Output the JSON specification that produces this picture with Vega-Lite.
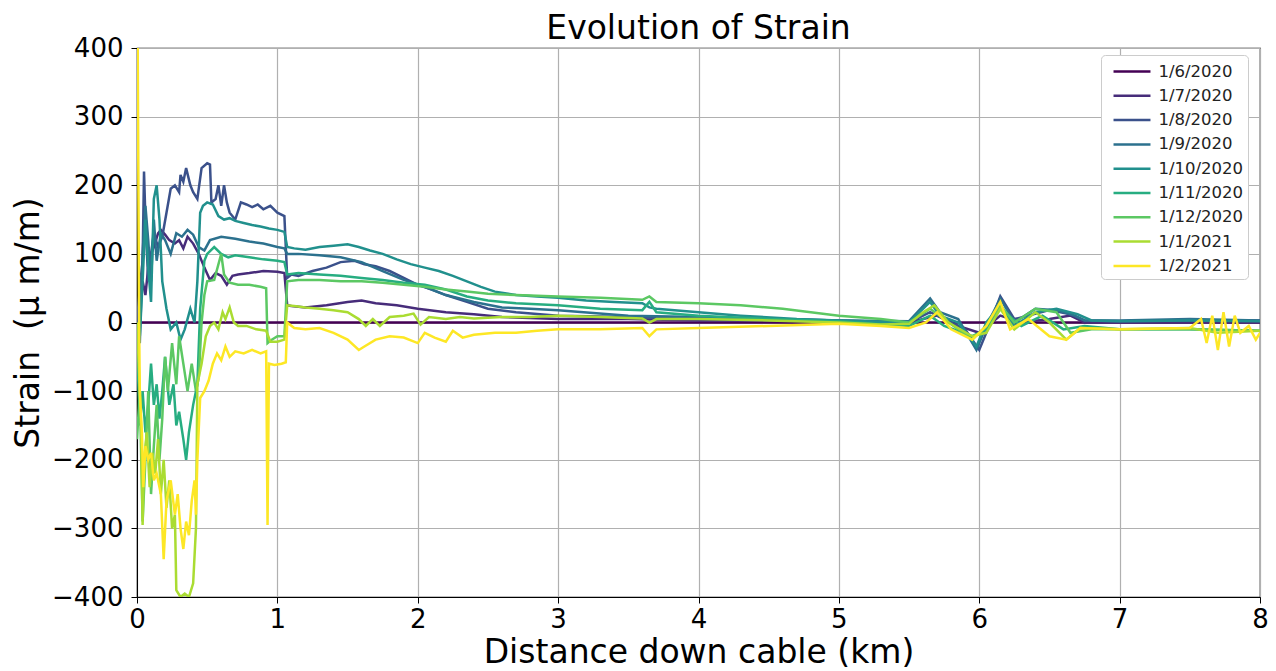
{
  "$schema": "https://vega.github.io/schema/vega-lite/v6.json",
  "width": 1123,
  "height": 549,
  "autosize": {"type": "none"},
  "padding": {"left": 137, "top": 48, "right": 16, "bottom": 74},
  "background": "white",
  "title": {"text": "Evolution of Strain", "fontSize": 33, "fontWeight": "normal", "font": "DejaVu Sans", "color": "black", "offset": -11, "anchor": "middle"},
  "config": {
    "view": {"stroke": "black", "strokeWidth": 1.2},
    "axis": {"font": "DejaVu Sans", "labelFont": "DejaVu Sans", "titleFont": "DejaVu Sans", "labelFontSize": 26, "labelColor": "black", "titleFontSize": 33, "titleFontWeight": "normal", "titleColor": "black", "grid": true, "gridColor": "#b0b0b0", "gridWidth": 1.2, "domainColor": "black", "tickColor": "black", "tickSize": 6, "labelFlush": false, "labelOverlap": false},
    "legend": {"labelFont": "DejaVu Sans", "labelFontSize": 16.5, "labelColor": "#222222", "symbolType": "M-1.68,0H1.68", "symbolStrokeWidth": 2.5, "symbolSize": 484, "symbolOffset": 14.5, "rowPadding": 3.3, "labelOffset": 14, "fillColor": "white", "strokeColor": "#cccccc", "cornerRadius": 4, "padding": 4}
  },
  "data": {"values": [
    {"date":"1/6/2020","km":0,"strain":0},{"date":"1/6/2020","km":8,"strain":0},

    {"date":"1/7/2020","km":0,"strain":0},{"date":"1/7/2020","km":0.02,"strain":30},{"date":"1/7/2020","km":0.04,"strain":60},{"date":"1/7/2020","km":0.06,"strain":40},{"date":"1/7/2020","km":0.08,"strain":80},{"date":"1/7/2020","km":0.1,"strain":100},{"date":"1/7/2020","km":0.12,"strain":110},{"date":"1/7/2020","km":0.15,"strain":130},{"date":"1/7/2020","km":0.17,"strain":135},{"date":"1/7/2020","km":0.2,"strain":128},{"date":"1/7/2020","km":0.23,"strain":120},{"date":"1/7/2020","km":0.27,"strain":115},{"date":"1/7/2020","km":0.3,"strain":120},{"date":"1/7/2020","km":0.33,"strain":108},{"date":"1/7/2020","km":0.36,"strain":125},{"date":"1/7/2020","km":0.4,"strain":115},{"date":"1/7/2020","km":0.44,"strain":100},{"date":"1/7/2020","km":0.48,"strain":80},{"date":"1/7/2020","km":0.52,"strain":62},{"date":"1/7/2020","km":0.56,"strain":72},{"date":"1/7/2020","km":0.6,"strain":68},{"date":"1/7/2020","km":0.64,"strain":55},{"date":"1/7/2020","km":0.68,"strain":68},{"date":"1/7/2020","km":0.72,"strain":70},{"date":"1/7/2020","km":0.8,"strain":72},{"date":"1/7/2020","km":0.9,"strain":75},{"date":"1/7/2020","km":1.0,"strain":74},{"date":"1/7/2020","km":1.05,"strain":72},{"date":"1/7/2020","km":1.07,"strain":25},{"date":"1/7/2020","km":1.1,"strain":24},{"date":"1/7/2020","km":1.2,"strain":22},{"date":"1/7/2020","km":1.35,"strain":25},{"date":"1/7/2020","km":1.5,"strain":30},{"date":"1/7/2020","km":1.6,"strain":32},{"date":"1/7/2020","km":1.7,"strain":28},{"date":"1/7/2020","km":1.85,"strain":25},{"date":"1/7/2020","km":2.0,"strain":20},{"date":"1/7/2020","km":2.2,"strain":15},{"date":"1/7/2020","km":2.4,"strain":12},{"date":"1/7/2020","km":2.6,"strain":8},{"date":"1/7/2020","km":3.0,"strain":5},{"date":"1/7/2020","km":3.5,"strain":5},{"date":"1/7/2020","km":4.0,"strain":3},{"date":"1/7/2020","km":4.5,"strain":3},{"date":"1/7/2020","km":5.0,"strain":2},{"date":"1/7/2020","km":5.5,"strain":0},{"date":"1/7/2020","km":5.7,"strain":10},{"date":"1/7/2020","km":5.85,"strain":-5},{"date":"1/7/2020","km":6.0,"strain":-15},{"date":"1/7/2020","km":6.15,"strain":10},{"date":"1/7/2020","km":6.3,"strain":0},{"date":"1/7/2020","km":6.5,"strain":5},{"date":"1/7/2020","km":6.65,"strain":10},{"date":"1/7/2020","km":6.75,"strain":0},{"date":"1/7/2020","km":7.0,"strain":0},{"date":"1/7/2020","km":8.0,"strain":0},

    {"date":"1/8/2020","km":0,"strain":0},{"date":"1/8/2020","km":0.02,"strain":50},{"date":"1/8/2020","km":0.04,"strain":90},{"date":"1/8/2020","km":0.05,"strain":220},{"date":"1/8/2020","km":0.06,"strain":150},{"date":"1/8/2020","km":0.08,"strain":60},{"date":"1/8/2020","km":0.1,"strain":100},{"date":"1/8/2020","km":0.12,"strain":130},{"date":"1/8/2020","km":0.15,"strain":110},{"date":"1/8/2020","km":0.18,"strain":125},{"date":"1/8/2020","km":0.21,"strain":160},{"date":"1/8/2020","km":0.24,"strain":195},{"date":"1/8/2020","km":0.27,"strain":200},{"date":"1/8/2020","km":0.3,"strain":190},{"date":"1/8/2020","km":0.31,"strain":215},{"date":"1/8/2020","km":0.33,"strain":205},{"date":"1/8/2020","km":0.35,"strain":225},{"date":"1/8/2020","km":0.38,"strain":200},{"date":"1/8/2020","km":0.4,"strain":190},{"date":"1/8/2020","km":0.43,"strain":180},{"date":"1/8/2020","km":0.46,"strain":225},{"date":"1/8/2020","km":0.5,"strain":232},{"date":"1/8/2020","km":0.52,"strain":230},{"date":"1/8/2020","km":0.53,"strain":175},{"date":"1/8/2020","km":0.56,"strain":180},{"date":"1/8/2020","km":0.58,"strain":200},{"date":"1/8/2020","km":0.6,"strain":170},{"date":"1/8/2020","km":0.62,"strain":200},{"date":"1/8/2020","km":0.64,"strain":175},{"date":"1/8/2020","km":0.66,"strain":160},{"date":"1/8/2020","km":0.7,"strain":150},{"date":"1/8/2020","km":0.74,"strain":175},{"date":"1/8/2020","km":0.78,"strain":172},{"date":"1/8/2020","km":0.82,"strain":168},{"date":"1/8/2020","km":0.86,"strain":172},{"date":"1/8/2020","km":0.9,"strain":165},{"date":"1/8/2020","km":0.95,"strain":170},{"date":"1/8/2020","km":1.0,"strain":160},{"date":"1/8/2020","km":1.05,"strain":155},{"date":"1/8/2020","km":1.07,"strain":65},{"date":"1/8/2020","km":1.1,"strain":70},{"date":"1/8/2020","km":1.15,"strain":68},{"date":"1/8/2020","km":1.25,"strain":75},{"date":"1/8/2020","km":1.35,"strain":80},{"date":"1/8/2020","km":1.45,"strain":88},{"date":"1/8/2020","km":1.55,"strain":90},{"date":"1/8/2020","km":1.62,"strain":85},{"date":"1/8/2020","km":1.7,"strain":82},{"date":"1/8/2020","km":1.8,"strain":75},{"date":"1/8/2020","km":1.9,"strain":65},{"date":"1/8/2020","km":2.0,"strain":55},{"date":"1/8/2020","km":2.1,"strain":48},{"date":"1/8/2020","km":2.2,"strain":40},{"date":"1/8/2020","km":2.35,"strain":30},{"date":"1/8/2020","km":2.5,"strain":20},{"date":"1/8/2020","km":2.7,"strain":15},{"date":"1/8/2020","km":3.0,"strain":10},{"date":"1/8/2020","km":3.5,"strain":8},{"date":"1/8/2020","km":4.0,"strain":5},{"date":"1/8/2020","km":4.5,"strain":5},{"date":"1/8/2020","km":5.0,"strain":3},{"date":"1/8/2020","km":5.5,"strain":0},{"date":"1/8/2020","km":5.65,"strain":15},{"date":"1/8/2020","km":5.75,"strain":5},{"date":"1/8/2020","km":5.9,"strain":-10},{"date":"1/8/2020","km":6.0,"strain":-40},{"date":"1/8/2020","km":6.08,"strain":0},{"date":"1/8/2020","km":6.15,"strain":38},{"date":"1/8/2020","km":6.25,"strain":5},{"date":"1/8/2020","km":6.35,"strain":10},{"date":"1/8/2020","km":6.5,"strain":18},{"date":"1/8/2020","km":6.65,"strain":12},{"date":"1/8/2020","km":6.75,"strain":3},{"date":"1/8/2020","km":7.0,"strain":2},{"date":"1/8/2020","km":7.5,"strain":3},{"date":"1/8/2020","km":8.0,"strain":3},

    {"date":"1/9/2020","km":0,"strain":0},{"date":"1/9/2020","km":0.02,"strain":-30},{"date":"1/9/2020","km":0.04,"strain":100},{"date":"1/9/2020","km":0.06,"strain":170},{"date":"1/9/2020","km":0.08,"strain":120},{"date":"1/9/2020","km":0.1,"strain":60},{"date":"1/9/2020","km":0.12,"strain":150},{"date":"1/9/2020","km":0.14,"strain":90},{"date":"1/9/2020","km":0.17,"strain":130},{"date":"1/9/2020","km":0.2,"strain":120},{"date":"1/9/2020","km":0.24,"strain":100},{"date":"1/9/2020","km":0.28,"strain":130},{"date":"1/9/2020","km":0.32,"strain":125},{"date":"1/9/2020","km":0.36,"strain":135},{"date":"1/9/2020","km":0.4,"strain":128},{"date":"1/9/2020","km":0.44,"strain":110},{"date":"1/9/2020","km":0.48,"strain":105},{"date":"1/9/2020","km":0.52,"strain":120},{"date":"1/9/2020","km":0.6,"strain":125},{"date":"1/9/2020","km":0.7,"strain":122},{"date":"1/9/2020","km":0.8,"strain":118},{"date":"1/9/2020","km":0.9,"strain":115},{"date":"1/9/2020","km":1.0,"strain":110},{"date":"1/9/2020","km":1.05,"strain":108},{"date":"1/9/2020","km":1.07,"strain":100},{"date":"1/9/2020","km":1.15,"strain":100},{"date":"1/9/2020","km":1.3,"strain":98},{"date":"1/9/2020","km":1.45,"strain":95},{"date":"1/9/2020","km":1.6,"strain":88},{"date":"1/9/2020","km":1.75,"strain":75},{"date":"1/9/2020","km":1.9,"strain":62},{"date":"1/9/2020","km":2.05,"strain":52},{"date":"1/9/2020","km":2.2,"strain":40},{"date":"1/9/2020","km":2.4,"strain":30},{"date":"1/9/2020","km":2.6,"strain":22},{"date":"1/9/2020","km":2.8,"strain":20},{"date":"1/9/2020","km":3.0,"strain":18},{"date":"1/9/2020","km":3.5,"strain":10},{"date":"1/9/2020","km":4.0,"strain":8},{"date":"1/9/2020","km":4.5,"strain":5},{"date":"1/9/2020","km":5.0,"strain":3},{"date":"1/9/2020","km":5.5,"strain":2},{"date":"1/9/2020","km":5.65,"strain":35},{"date":"1/9/2020","km":5.72,"strain":15},{"date":"1/9/2020","km":5.85,"strain":5},{"date":"1/9/2020","km":5.98,"strain":-40},{"date":"1/9/2020","km":6.05,"strain":-5},{"date":"1/9/2020","km":6.15,"strain":35},{"date":"1/9/2020","km":6.25,"strain":0},{"date":"1/9/2020","km":6.4,"strain":20},{"date":"1/9/2020","km":6.55,"strain":18},{"date":"1/9/2020","km":6.68,"strain":10},{"date":"1/9/2020","km":6.75,"strain":3},{"date":"1/9/2020","km":7.0,"strain":3},{"date":"1/9/2020","km":7.5,"strain":5},{"date":"1/9/2020","km":8.0,"strain":3},

    {"date":"1/10/2020","km":0,"strain":0},{"date":"1/10/2020","km":0.02,"strain":-20},{"date":"1/10/2020","km":0.04,"strain":60},{"date":"1/10/2020","km":0.06,"strain":150},{"date":"1/10/2020","km":0.08,"strain":80},{"date":"1/10/2020","km":0.1,"strain":30},{"date":"1/10/2020","km":0.12,"strain":180},{"date":"1/10/2020","km":0.14,"strain":200},{"date":"1/10/2020","km":0.16,"strain":150},{"date":"1/10/2020","km":0.18,"strain":60},{"date":"1/10/2020","km":0.21,"strain":20},{"date":"1/10/2020","km":0.24,"strain":-10},{"date":"1/10/2020","km":0.28,"strain":0},{"date":"1/10/2020","km":0.31,"strain":-25},{"date":"1/10/2020","km":0.34,"strain":-10},{"date":"1/10/2020","km":0.38,"strain":20},{"date":"1/10/2020","km":0.41,"strain":0},{"date":"1/10/2020","km":0.43,"strain":60},{"date":"1/10/2020","km":0.45,"strain":160},{"date":"1/10/2020","km":0.47,"strain":170},{"date":"1/10/2020","km":0.5,"strain":175},{"date":"1/10/2020","km":0.54,"strain":172},{"date":"1/10/2020","km":0.58,"strain":155},{"date":"1/10/2020","km":0.62,"strain":150},{"date":"1/10/2020","km":0.66,"strain":152},{"date":"1/10/2020","km":0.7,"strain":148},{"date":"1/10/2020","km":0.76,"strain":145},{"date":"1/10/2020","km":0.82,"strain":142},{"date":"1/10/2020","km":0.88,"strain":140},{"date":"1/10/2020","km":0.94,"strain":137},{"date":"1/10/2020","km":1.0,"strain":135},{"date":"1/10/2020","km":1.05,"strain":132},{"date":"1/10/2020","km":1.07,"strain":110},{"date":"1/10/2020","km":1.12,"strain":108},{"date":"1/10/2020","km":1.2,"strain":106},{"date":"1/10/2020","km":1.3,"strain":110},{"date":"1/10/2020","km":1.4,"strain":112},{"date":"1/10/2020","km":1.5,"strain":114},{"date":"1/10/2020","km":1.58,"strain":110},{"date":"1/10/2020","km":1.66,"strain":105},{"date":"1/10/2020","km":1.75,"strain":100},{"date":"1/10/2020","km":1.85,"strain":92},{"date":"1/10/2020","km":1.95,"strain":85},{"date":"1/10/2020","km":2.05,"strain":80},{"date":"1/10/2020","km":2.15,"strain":75},{"date":"1/10/2020","km":2.25,"strain":68},{"date":"1/10/2020","km":2.35,"strain":60},{"date":"1/10/2020","km":2.45,"strain":52},{"date":"1/10/2020","km":2.55,"strain":45},{"date":"1/10/2020","km":2.7,"strain":40},{"date":"1/10/2020","km":2.85,"strain":38},{"date":"1/10/2020","km":3.0,"strain":36},{"date":"1/10/2020","km":3.2,"strain":32},{"date":"1/10/2020","km":3.4,"strain":30},{"date":"1/10/2020","km":3.6,"strain":28},{"date":"1/10/2020","km":3.65,"strain":22},{"date":"1/10/2020","km":3.7,"strain":20},{"date":"1/10/2020","km":4.0,"strain":15},{"date":"1/10/2020","km":4.3,"strain":10},{"date":"1/10/2020","km":4.7,"strain":5},{"date":"1/10/2020","km":5.0,"strain":3},{"date":"1/10/2020","km":5.5,"strain":0},{"date":"1/10/2020","km":5.65,"strain":30},{"date":"1/10/2020","km":5.72,"strain":10},{"date":"1/10/2020","km":5.85,"strain":0},{"date":"1/10/2020","km":5.98,"strain":-35},{"date":"1/10/2020","km":6.05,"strain":0},{"date":"1/10/2020","km":6.15,"strain":25},{"date":"1/10/2020","km":6.25,"strain":-5},{"date":"1/10/2020","km":6.4,"strain":15},{"date":"1/10/2020","km":6.55,"strain":20},{"date":"1/10/2020","km":6.7,"strain":12},{"date":"1/10/2020","km":6.8,"strain":3},{"date":"1/10/2020","km":7.0,"strain":2},{"date":"1/10/2020","km":7.5,"strain":3},{"date":"1/10/2020","km":8.0,"strain":2},

    {"date":"1/11/2020","km":0,"strain":-30},{"date":"1/11/2020","km":0.02,"strain":-150},{"date":"1/11/2020","km":0.04,"strain":-100},{"date":"1/11/2020","km":0.06,"strain":-160},{"date":"1/11/2020","km":0.08,"strain":-120},{"date":"1/11/2020","km":0.1,"strain":-60},{"date":"1/11/2020","km":0.12,"strain":-120},{"date":"1/11/2020","km":0.14,"strain":-90},{"date":"1/11/2020","km":0.16,"strain":-140},{"date":"1/11/2020","km":0.18,"strain":-100},{"date":"1/11/2020","km":0.2,"strain":-50},{"date":"1/11/2020","km":0.23,"strain":-120},{"date":"1/11/2020","km":0.26,"strain":-90},{"date":"1/11/2020","km":0.28,"strain":-150},{"date":"1/11/2020","km":0.3,"strain":-130},{"date":"1/11/2020","km":0.33,"strain":-170},{"date":"1/11/2020","km":0.35,"strain":-200},{"date":"1/11/2020","km":0.37,"strain":-160},{"date":"1/11/2020","km":0.4,"strain":-120},{"date":"1/11/2020","km":0.43,"strain":-90},{"date":"1/11/2020","km":0.45,"strain":20},{"date":"1/11/2020","km":0.48,"strain":90},{"date":"1/11/2020","km":0.5,"strain":100},{"date":"1/11/2020","km":0.55,"strain":110},{"date":"1/11/2020","km":0.6,"strain":100},{"date":"1/11/2020","km":0.65,"strain":95},{"date":"1/11/2020","km":0.7,"strain":98},{"date":"1/11/2020","km":0.8,"strain":95},{"date":"1/11/2020","km":0.9,"strain":92},{"date":"1/11/2020","km":1.0,"strain":90},{"date":"1/11/2020","km":1.05,"strain":88},{"date":"1/11/2020","km":1.07,"strain":70},{"date":"1/11/2020","km":1.15,"strain":72},{"date":"1/11/2020","km":1.3,"strain":70},{"date":"1/11/2020","km":1.45,"strain":68},{"date":"1/11/2020","km":1.6,"strain":65},{"date":"1/11/2020","km":1.75,"strain":62},{"date":"1/11/2020","km":1.9,"strain":58},{"date":"1/11/2020","km":2.05,"strain":55},{"date":"1/11/2020","km":2.2,"strain":48},{"date":"1/11/2020","km":2.35,"strain":38},{"date":"1/11/2020","km":2.5,"strain":32},{"date":"1/11/2020","km":2.7,"strain":28},{"date":"1/11/2020","km":3.0,"strain":25},{"date":"1/11/2020","km":3.3,"strain":20},{"date":"1/11/2020","km":3.6,"strain":18},{"date":"1/11/2020","km":3.65,"strain":30},{"date":"1/11/2020","km":3.7,"strain":15},{"date":"1/11/2020","km":4.0,"strain":10},{"date":"1/11/2020","km":4.5,"strain":5},{"date":"1/11/2020","km":5.0,"strain":2},{"date":"1/11/2020","km":5.5,"strain":-5},{"date":"1/11/2020","km":5.65,"strain":10},{"date":"1/11/2020","km":5.75,"strain":-5},{"date":"1/11/2020","km":5.95,"strain":-20},{"date":"1/11/2020","km":6.05,"strain":-10},{"date":"1/11/2020","km":6.15,"strain":20},{"date":"1/11/2020","km":6.3,"strain":-5},{"date":"1/11/2020","km":6.45,"strain":10},{"date":"1/11/2020","km":6.6,"strain":-10},{"date":"1/11/2020","km":6.75,"strain":-5},{"date":"1/11/2020","km":7.0,"strain":-10},{"date":"1/11/2020","km":7.5,"strain":-10},{"date":"1/11/2020","km":8.0,"strain":-12},

    {"date":"1/12/2020","km":0,"strain":-170},{"date":"1/12/2020","km":0.02,"strain":-100},{"date":"1/12/2020","km":0.04,"strain":-290},{"date":"1/12/2020","km":0.06,"strain":-200},{"date":"1/12/2020","km":0.08,"strain":-100},{"date":"1/12/2020","km":0.1,"strain":-250},{"date":"1/12/2020","km":0.12,"strain":-180},{"date":"1/12/2020","km":0.14,"strain":-120},{"date":"1/12/2020","km":0.16,"strain":-200},{"date":"1/12/2020","km":0.18,"strain":-140},{"date":"1/12/2020","km":0.2,"strain":-50},{"date":"1/12/2020","km":0.22,"strain":-100},{"date":"1/12/2020","km":0.25,"strain":-30},{"date":"1/12/2020","km":0.28,"strain":-90},{"date":"1/12/2020","km":0.3,"strain":-20},{"date":"1/12/2020","km":0.33,"strain":-60},{"date":"1/12/2020","km":0.36,"strain":-100},{"date":"1/12/2020","km":0.39,"strain":-60},{"date":"1/12/2020","km":0.42,"strain":-100},{"date":"1/12/2020","km":0.44,"strain":-80},{"date":"1/12/2020","km":0.46,"strain":0},{"date":"1/12/2020","km":0.48,"strain":40},{"date":"1/12/2020","km":0.5,"strain":60},{"date":"1/12/2020","km":0.55,"strain":62},{"date":"1/12/2020","km":0.6,"strain":100},{"date":"1/12/2020","km":0.62,"strain":70},{"date":"1/12/2020","km":0.66,"strain":58},{"date":"1/12/2020","km":0.72,"strain":55},{"date":"1/12/2020","km":0.8,"strain":55},{"date":"1/12/2020","km":0.88,"strain":52},{"date":"1/12/2020","km":0.92,"strain":50},{"date":"1/12/2020","km":0.93,"strain":-30},{"date":"1/12/2020","km":0.96,"strain":-25},{"date":"1/12/2020","km":1.0,"strain":-20},{"date":"1/12/2020","km":1.05,"strain":-20},{"date":"1/12/2020","km":1.07,"strain":60},{"date":"1/12/2020","km":1.15,"strain":62},{"date":"1/12/2020","km":1.3,"strain":62},{"date":"1/12/2020","km":1.45,"strain":60},{"date":"1/12/2020","km":1.6,"strain":60},{"date":"1/12/2020","km":1.75,"strain":58},{"date":"1/12/2020","km":1.9,"strain":55},{"date":"1/12/2020","km":2.05,"strain":52},{"date":"1/12/2020","km":2.2,"strain":48},{"date":"1/12/2020","km":2.35,"strain":45},{"date":"1/12/2020","km":2.5,"strain":42},{"date":"1/12/2020","km":2.7,"strain":40},{"date":"1/12/2020","km":3.0,"strain":38},{"date":"1/12/2020","km":3.3,"strain":36},{"date":"1/12/2020","km":3.6,"strain":33},{"date":"1/12/2020","km":3.65,"strain":38},{"date":"1/12/2020","km":3.7,"strain":30},{"date":"1/12/2020","km":4.0,"strain":28},{"date":"1/12/2020","km":4.3,"strain":25},{"date":"1/12/2020","km":4.6,"strain":20},{"date":"1/12/2020","km":5.0,"strain":10},{"date":"1/12/2020","km":5.3,"strain":5},{"date":"1/12/2020","km":5.5,"strain":0},{"date":"1/12/2020","km":5.65,"strain":20},{"date":"1/12/2020","km":5.75,"strain":5},{"date":"1/12/2020","km":5.95,"strain":-25},{"date":"1/12/2020","km":6.05,"strain":-5},{"date":"1/12/2020","km":6.15,"strain":25},{"date":"1/12/2020","km":6.25,"strain":0},{"date":"1/12/2020","km":6.4,"strain":20},{"date":"1/12/2020","km":6.55,"strain":15},{"date":"1/12/2020","km":6.65,"strain":-15},{"date":"1/12/2020","km":6.8,"strain":-10},{"date":"1/12/2020","km":7.0,"strain":-10},{"date":"1/12/2020","km":7.5,"strain":-10},{"date":"1/12/2020","km":8.0,"strain":-12},

    {"date":"1/1/2021","km":0,"strain":0},{"date":"1/1/2021","km":0.02,"strain":-100},{"date":"1/1/2021","km":0.03,"strain":-160},{"date":"1/1/2021","km":0.04,"strain":-295},{"date":"1/1/2021","km":0.05,"strain":-200},{"date":"1/1/2021","km":0.07,"strain":-160},{"date":"1/1/2021","km":0.09,"strain":-240},{"date":"1/1/2021","km":0.11,"strain":-190},{"date":"1/1/2021","km":0.13,"strain":-220},{"date":"1/1/2021","km":0.15,"strain":-170},{"date":"1/1/2021","km":0.17,"strain":-250},{"date":"1/1/2021","km":0.19,"strain":-200},{"date":"1/1/2021","km":0.21,"strain":-270},{"date":"1/1/2021","km":0.23,"strain":-230},{"date":"1/1/2021","km":0.25,"strain":-300},{"date":"1/1/2021","km":0.27,"strain":-280},{"date":"1/1/2021","km":0.28,"strain":-390},{"date":"1/1/2021","km":0.31,"strain":-400},{"date":"1/1/2021","km":0.34,"strain":-395},{"date":"1/1/2021","km":0.37,"strain":-400},{"date":"1/1/2021","km":0.4,"strain":-380},{"date":"1/1/2021","km":0.42,"strain":-300},{"date":"1/1/2021","km":0.43,"strain":-90},{"date":"1/1/2021","km":0.46,"strain":-60},{"date":"1/1/2021","km":0.49,"strain":-20},{"date":"1/1/2021","km":0.52,"strain":-5},{"date":"1/1/2021","km":0.55,"strain":0},{"date":"1/1/2021","km":0.58,"strain":-10},{"date":"1/1/2021","km":0.61,"strain":15},{"date":"1/1/2021","km":0.63,"strain":5},{"date":"1/1/2021","km":0.66,"strain":22},{"date":"1/1/2021","km":0.69,"strain":0},{"date":"1/1/2021","km":0.72,"strain":-5},{"date":"1/1/2021","km":0.78,"strain":-5},{"date":"1/1/2021","km":0.85,"strain":-10},{"date":"1/1/2021","km":0.92,"strain":-12},{"date":"1/1/2021","km":0.95,"strain":-28},{"date":"1/1/2021","km":1.0,"strain":-28},{"date":"1/1/2021","km":1.05,"strain":-25},{"date":"1/1/2021","km":1.07,"strain":25},{"date":"1/1/2021","km":1.12,"strain":24},{"date":"1/1/2021","km":1.2,"strain":22},{"date":"1/1/2021","km":1.3,"strain":20},{"date":"1/1/2021","km":1.4,"strain":18},{"date":"1/1/2021","km":1.5,"strain":15},{"date":"1/1/2021","km":1.58,"strain":5},{"date":"1/1/2021","km":1.63,"strain":-5},{"date":"1/1/2021","km":1.68,"strain":5},{"date":"1/1/2021","km":1.73,"strain":-5},{"date":"1/1/2021","km":1.8,"strain":8},{"date":"1/1/2021","km":1.9,"strain":10},{"date":"1/1/2021","km":1.97,"strain":13},{"date":"1/1/2021","km":2.02,"strain":-3},{"date":"1/1/2021","km":2.08,"strain":8},{"date":"1/1/2021","km":2.2,"strain":5},{"date":"1/1/2021","km":2.3,"strain":8},{"date":"1/1/2021","km":2.4,"strain":6},{"date":"1/1/2021","km":2.6,"strain":8},{"date":"1/1/2021","km":2.8,"strain":8},{"date":"1/1/2021","km":3.0,"strain":10},{"date":"1/1/2021","km":3.3,"strain":8},{"date":"1/1/2021","km":3.6,"strain":6},{"date":"1/1/2021","km":3.65,"strain":0},{"date":"1/1/2021","km":3.7,"strain":5},{"date":"1/1/2021","km":4.0,"strain":5},{"date":"1/1/2021","km":4.5,"strain":3},{"date":"1/1/2021","km":5.0,"strain":0},{"date":"1/1/2021","km":5.3,"strain":-3},{"date":"1/1/2021","km":5.5,"strain":-2},{"date":"1/1/2021","km":5.6,"strain":15},{"date":"1/1/2021","km":5.68,"strain":25},{"date":"1/1/2021","km":5.78,"strain":0},{"date":"1/1/2021","km":5.95,"strain":-20},{"date":"1/1/2021","km":6.05,"strain":-15},{"date":"1/1/2021","km":6.15,"strain":20},{"date":"1/1/2021","km":6.25,"strain":-10},{"date":"1/1/2021","km":6.4,"strain":15},{"date":"1/1/2021","km":6.5,"strain":0},{"date":"1/1/2021","km":6.62,"strain":-25},{"date":"1/1/2021","km":6.72,"strain":-8},{"date":"1/1/2021","km":7.0,"strain":-10},{"date":"1/1/2021","km":7.5,"strain":-8},{"date":"1/1/2021","km":7.7,"strain":-15},{"date":"1/1/2021","km":8.0,"strain":-12},

    {"date":"1/2/2021","km":0,"strain":400},{"date":"1/2/2021","km":0.005,"strain":400},{"date":"1/2/2021","km":0.01,"strain":200},{"date":"1/2/2021","km":0.015,"strain":0},{"date":"1/2/2021","km":0.02,"strain":-100},{"date":"1/2/2021","km":0.035,"strain":-160},{"date":"1/2/2021","km":0.045,"strain":-240},{"date":"1/2/2021","km":0.06,"strain":-180},{"date":"1/2/2021","km":0.08,"strain":-200},{"date":"1/2/2021","km":0.1,"strain":-190},{"date":"1/2/2021","km":0.12,"strain":-230},{"date":"1/2/2021","km":0.14,"strain":-220},{"date":"1/2/2021","km":0.17,"strain":-250},{"date":"1/2/2021","km":0.19,"strain":-345},{"date":"1/2/2021","km":0.21,"strain":-260},{"date":"1/2/2021","km":0.24,"strain":-230},{"date":"1/2/2021","km":0.27,"strain":-280},{"date":"1/2/2021","km":0.29,"strain":-250},{"date":"1/2/2021","km":0.31,"strain":-300},{"date":"1/2/2021","km":0.33,"strain":-330},{"date":"1/2/2021","km":0.35,"strain":-290},{"date":"1/2/2021","km":0.37,"strain":-310},{"date":"1/2/2021","km":0.39,"strain":-260},{"date":"1/2/2021","km":0.41,"strain":-230},{"date":"1/2/2021","km":0.42,"strain":-280},{"date":"1/2/2021","km":0.43,"strain":-200},{"date":"1/2/2021","km":0.45,"strain":-110},{"date":"1/2/2021","km":0.48,"strain":-100},{"date":"1/2/2021","km":0.51,"strain":-85},{"date":"1/2/2021","km":0.54,"strain":-60},{"date":"1/2/2021","km":0.57,"strain":-45},{"date":"1/2/2021","km":0.6,"strain":-55},{"date":"1/2/2021","km":0.63,"strain":-35},{"date":"1/2/2021","km":0.66,"strain":-50},{"date":"1/2/2021","km":0.7,"strain":-42},{"date":"1/2/2021","km":0.76,"strain":-45},{"date":"1/2/2021","km":0.82,"strain":-40},{"date":"1/2/2021","km":0.88,"strain":-45},{"date":"1/2/2021","km":0.92,"strain":-42},{"date":"1/2/2021","km":0.93,"strain":-295},{"date":"1/2/2021","km":0.94,"strain":-60},{"date":"1/2/2021","km":0.98,"strain":-62},{"date":"1/2/2021","km":1.03,"strain":-60},{"date":"1/2/2021","km":1.06,"strain":-58},{"date":"1/2/2021","km":1.07,"strain":0},{"date":"1/2/2021","km":1.12,"strain":-8},{"date":"1/2/2021","km":1.2,"strain":-10},{"date":"1/2/2021","km":1.3,"strain":-8},{"date":"1/2/2021","km":1.4,"strain":-15},{"date":"1/2/2021","km":1.5,"strain":-25},{"date":"1/2/2021","km":1.58,"strain":-40},{"date":"1/2/2021","km":1.62,"strain":-35},{"date":"1/2/2021","km":1.7,"strain":-25},{"date":"1/2/2021","km":1.8,"strain":-20},{"date":"1/2/2021","km":1.9,"strain":-22},{"date":"1/2/2021","km":2.0,"strain":-30},{"date":"1/2/2021","km":2.05,"strain":-15},{"date":"1/2/2021","km":2.12,"strain":-22},{"date":"1/2/2021","km":2.2,"strain":-28},{"date":"1/2/2021","km":2.25,"strain":-12},{"date":"1/2/2021","km":2.32,"strain":-22},{"date":"1/2/2021","km":2.4,"strain":-18},{"date":"1/2/2021","km":2.55,"strain":-15},{"date":"1/2/2021","km":2.7,"strain":-15},{"date":"1/2/2021","km":2.85,"strain":-12},{"date":"1/2/2021","km":3.0,"strain":-10},{"date":"1/2/2021","km":3.3,"strain":-10},{"date":"1/2/2021","km":3.6,"strain":-8},{"date":"1/2/2021","km":3.65,"strain":-20},{"date":"1/2/2021","km":3.7,"strain":-10},{"date":"1/2/2021","km":4.0,"strain":-8},{"date":"1/2/2021","km":4.5,"strain":-5},{"date":"1/2/2021","km":5.0,"strain":-2},{"date":"1/2/2021","km":5.3,"strain":-5},{"date":"1/2/2021","km":5.5,"strain":-8},{"date":"1/2/2021","km":5.62,"strain":0},{"date":"1/2/2021","km":5.7,"strain":15},{"date":"1/2/2021","km":5.8,"strain":-10},{"date":"1/2/2021","km":5.95,"strain":-25},{"date":"1/2/2021","km":6.05,"strain":-5},{"date":"1/2/2021","km":6.15,"strain":30},{"date":"1/2/2021","km":6.22,"strain":-10},{"date":"1/2/2021","km":6.35,"strain":5},{"date":"1/2/2021","km":6.5,"strain":-20},{"date":"1/2/2021","km":6.62,"strain":-25},{"date":"1/2/2021","km":6.72,"strain":-8},{"date":"1/2/2021","km":7.0,"strain":-10},{"date":"1/2/2021","km":7.5,"strain":-8},{"date":"1/2/2021","km":7.58,"strain":5},{"date":"1/2/2021","km":7.62,"strain":-30},{"date":"1/2/2021","km":7.66,"strain":10},{"date":"1/2/2021","km":7.7,"strain":-40},{"date":"1/2/2021","km":7.74,"strain":15},{"date":"1/2/2021","km":7.78,"strain":-35},{"date":"1/2/2021","km":7.82,"strain":10},{"date":"1/2/2021","km":7.86,"strain":-15},{"date":"1/2/2021","km":7.92,"strain":-5},{"date":"1/2/2021","km":7.97,"strain":-25},{"date":"1/2/2021","km":8.0,"strain":-15}
  ]},
  "mark": {"type": "line", "strokeWidth": 2.5, "clip": true, "interpolate": "linear"},
  "encoding": {
    "x": {"field": "km", "type": "quantitative", "scale": {"domain": [0, 8], "nice": false, "zero": false},
          "axis": {"title": "Distance down cable (km)", "values": [0,1,2,3,4,5,6,7,8], "titlePadding": 4, "labelPadding": 3}},
    "y": {"field": "strain", "type": "quantitative", "scale": {"domain": [-400, 400], "nice": false},
          "axis": {"title": "Strain\u00a0 (μ m/m)", "values": [-400,-300,-200,-100,0,100,200,300,400], "titlePadding": 6, "labelPadding": 8}},
    "color": {"field": "date", "type": "nominal",
              "scale": {"domain": ["1/6/2020","1/7/2020","1/8/2020","1/9/2020","1/10/2020","1/11/2020","1/12/2020","1/1/2021","1/2/2021"],
                        "range": ["#440154","#472c7a","#3b518b","#2c718e","#21908d","#27ad81","#5cc863","#aadc32","#fde725"]},
              "legend": {"title": null, "orient": "none", "legendX": 964, "legendY": 7}}
  }
}
